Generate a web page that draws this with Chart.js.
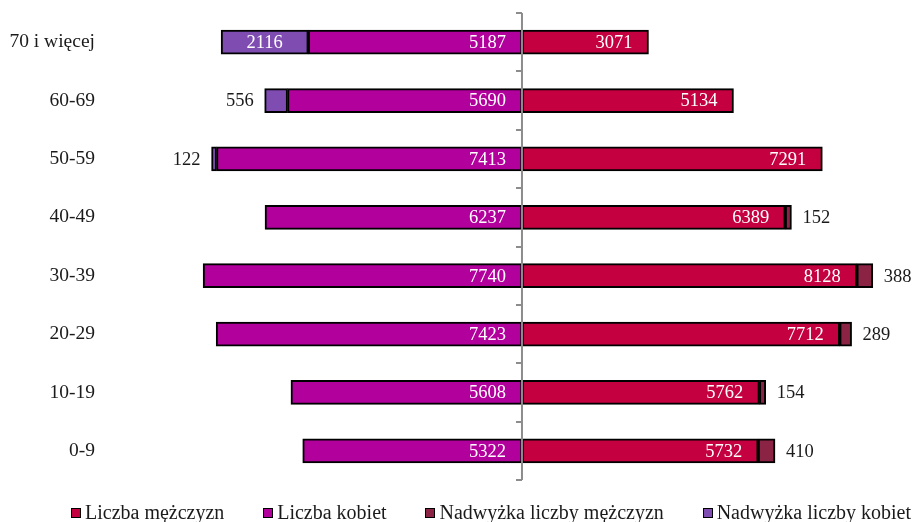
<!DOCTYPE html>
<html>
<head>
<meta charset="utf-8">
<script src="https://cdn.jsdelivr.net/npm/chart.js@4"></script>
<style>
  html, body { margin: 0; padding: 0; background: #fff; }
  #wrap { position: relative; width: 913px; height: 522px; }
  #legend {
    position: absolute; left: 71px; width: 840px; top: 501px; height: 22px;
    display: flex; justify-content: space-between; align-items: center;
    font: 20px "Liberation Serif", "Times New Roman", serif; color: #1a1a1a;
  }
  #legend span.item { display: flex; align-items: center; white-space: nowrap; }
  #legend span.box {
    display: inline-block; width: 8px; height: 8px; border: 1.5px solid #000;
    margin-right: 4px; margin-top: 2px;
  }
</style>
</head>
<body>
<div id="wrap"><canvas id="pyramid"></canvas><div id="legend"></div></div>
<script>
const ageGroups = ['70 i więcej', '60-69', '50-59', '40-49', '30-39', '20-29', '10-19', '0-9'];
const men = [3071, 5134, 7291, 6389, 8128, 7712, 5762, 5732];
const women = [5187, 5690, 7413, 6237, 7740, 7423, 5608, 5322];
const menSurplus = [0, 0, 0, 152, 388, 289, 154, 410];
const womenSurplus = [2116, 556, 122, 0, 0, 0, 0, 0];

const FONT = '"Liberation Serif", "Times New Roman", serif';

// pyramid: women go to the left as negative values
const neg = arr => arr.map(v => -v);

const centerLine = {
    id: 'centerLine',
    afterDatasetsDraw(chart) {
        const ctx = chart.ctx;
        const area = chart.chartArea;
        const x0 = chart.scales.x.getPixelForValue(0);
        const yScale = chart.scales.y;
        ctx.save();
        ctx.strokeStyle = '#8c8c8c';
        ctx.lineWidth = 2;
        ctx.beginPath();
        ctx.moveTo(x0, area.top);
        ctx.lineTo(x0, area.bottom);
        ctx.stroke();
        // small ticks between categories
        for (let i = 0; i <= ageGroups.length; i++) {
            const y = Math.round(yScale.getPixelForValue(i - 0.5));
            ctx.beginPath();
            ctx.moveTo(x0 - 6, y);
            ctx.lineTo(x0, y);
            ctx.stroke();
        }
        ctx.restore();
    }
};

const valueLabels = {
    id: 'valueLabels',
    afterDatasetsDraw(chart) {
        const ctx = chart.ctx;
        ctx.save();
        ctx.font = '18.5px ' + FONT;
        ctx.textBaseline = 'middle';
        chart.data.datasets.forEach((ds, di) => {
            const meta = chart.getDatasetMeta(di);
            meta.data.forEach((bar, i) => {
                const v = Math.abs(ds.data[i]);
                if (!v) return;
                const text = String(v);
                const w = ctx.measureText(text).width;
                const len = Math.abs(bar.x - bar.base);
                const y = bar.y + 1;
                if (ds.kind === 'men') {
                    ctx.fillStyle = '#fff';
                    ctx.textAlign = 'right';
                    ctx.fillText(text, bar.x - 16, y);
                } else if (ds.kind === 'women') {
                    ctx.fillStyle = '#fff';
                    ctx.textAlign = 'right';
                    ctx.fillText(text, bar.base - 16, y);
                } else if (ds.kind === 'menSurplus') {
                    ctx.fillStyle = '#1a1a1a';
                    ctx.textAlign = 'left';
                    ctx.fillText(text, bar.x + 11, y);
                } else {
                    if (len > w + 10) {
                        ctx.fillStyle = '#fff';
                        ctx.textAlign = 'center';
                        ctx.fillText(text, (bar.x + bar.base) / 2, y);
                    } else {
                        ctx.fillStyle = '#1a1a1a';
                        ctx.textAlign = 'right';
                        ctx.fillText(text, bar.x - 11, y);
                    }
                }
            });
        });
        ctx.restore();
    }
};

const chart = new Chart(document.getElementById('pyramid'), {
    type: 'bar',
    data: {
        labels: ageGroups,
        datasets: [
            {
                label: 'Liczba mężczyzn',
                kind: 'men',
                data: men,
                backgroundColor: '#c40040'
            },
            {
                label: 'Liczba kobiet',
                kind: 'women',
                data: neg(women),
                backgroundColor: '#b2009c'
            },
            {
                label: 'Nadwyżka liczby mężczyzn',
                kind: 'menSurplus',
                data: menSurplus,
                backgroundColor: '#8a2344'
            },
            {
                label: 'Nadwyżka liczby kobiet',
                kind: 'womenSurplus',
                data: neg(womenSurplus),
                backgroundColor: '#7f4cb2'
            }
        ].map(d => Object.assign(d, {
            borderColor: '#000',
            borderWidth: 2,
            borderSkipped: false,
            barThickness: 24
        }))
    },
    options: {
        indexAxis: 'y',
        responsive: true,
        maintainAspectRatio: false,
        animation: false,
        layout: {
            padding: { top: 13, right: 12, left: 0, bottom: 42 }
        },
        scales: {
            x: {
                stacked: true,
                min: -10000,
                max: 9200,
                display: false
            },
            y: {
                stacked: true,
                grid: { display: false, drawTicks: false },
                border: { display: false },
                ticks: {
                    color: '#1a1a1a',
                    padding: 15,
                    font: { family: FONT, size: 19.5 }
                },
                afterFit(scale) {
                    scale.width = 110;
                    scale.paddingTop = 0;
                    scale.paddingBottom = 0;
                }
            }
        },
        plugins: {
            legend: { display: false },
            tooltip: { enabled: false },
            title: { display: false }
        }
    },
    plugins: [centerLine, valueLabels]
});

// legend built from the chart's datasets
const legendEl = document.getElementById('legend');
chart.data.datasets.forEach(ds => {
    const item = document.createElement('span');
    item.className = 'item';
    const box = document.createElement('span');
    box.className = 'box';
    box.style.background = ds.backgroundColor;
    item.appendChild(box);
    item.appendChild(document.createTextNode(ds.label));
    legendEl.appendChild(item);
});
</script>
</body>
</html>
